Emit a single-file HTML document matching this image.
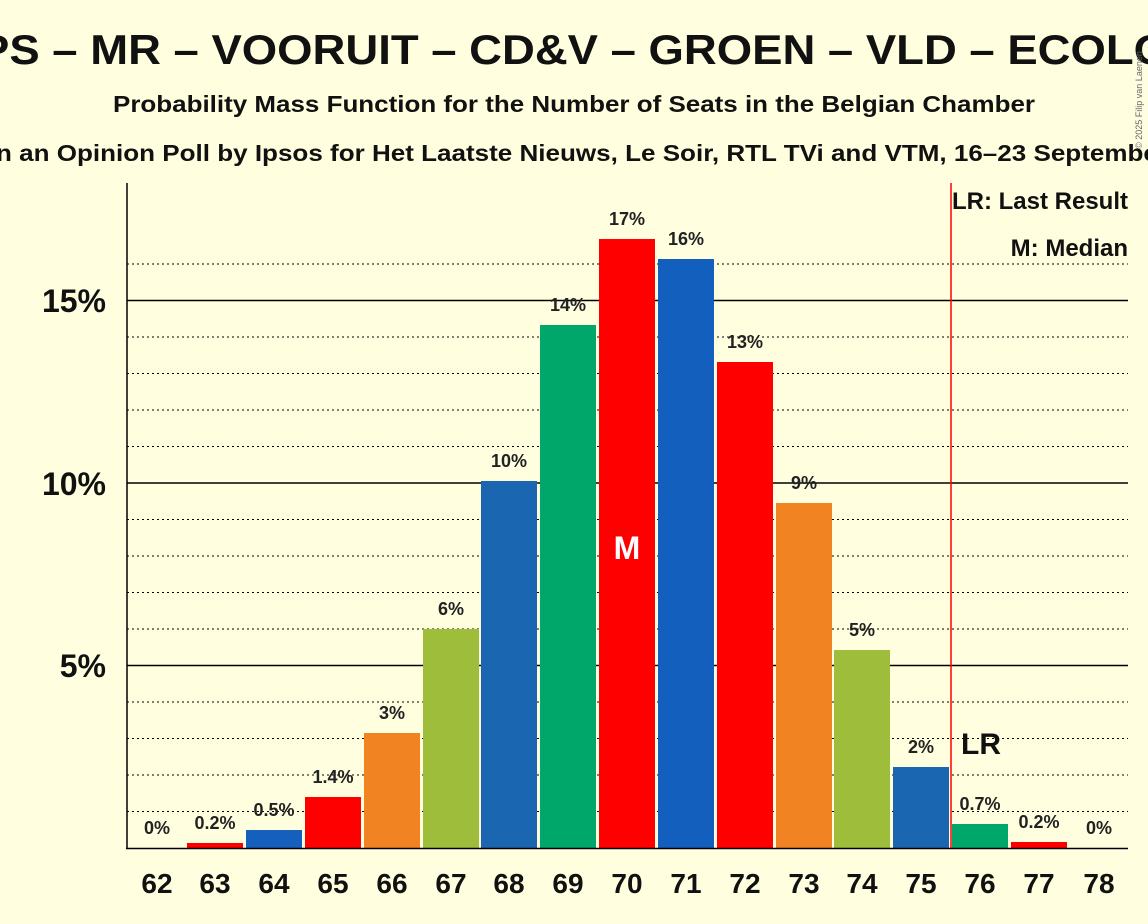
<!DOCTYPE html>
<html><head><meta charset="utf-8"><style>
body{margin:0;background:#ffffe0;}
svg{display:block;font-family:"Liberation Sans",sans-serif;}
</style></head><body>
<svg width="1148" height="924" xmlns="http://www.w3.org/2000/svg">
<rect width="1148" height="924" fill="#ffffe0"/>
<g font-weight="bold" text-anchor="middle" fill="#111">
<text x="574" y="64" font-size="42" textLength="1190" lengthAdjust="spacingAndGlyphs">PS – MR – VOORUIT – CD&amp;V – GROEN – VLD – ECOLO</text>
<text x="574" y="112" font-size="23" textLength="922" lengthAdjust="spacingAndGlyphs">Probability Mass Function for the Number of Seats in the Belgian Chamber</text>
<text x="582" y="161" font-size="23" textLength="1172" lengthAdjust="spacingAndGlyphs">n an Opinion Poll by Ipsos for Het Laatste Nieuws, Le Soir, RTL TVi and VTM, 16–23 September</text>
</g>
<text x="1142" y="100" font-size="9" fill="#666" transform="rotate(-90 1142 100)" text-anchor="middle">© 2025 Filip van Laenen</text>
<g stroke="#000" stroke-dasharray="2,3" stroke-width="1">
<line x1="127" x2="1128" y1="811.5" y2="811.5"/><line x1="127" x2="1128" y1="775" y2="775"/><line x1="127" x2="1128" y1="738.5" y2="738.5"/><line x1="127" x2="1128" y1="702" y2="702"/>
<line x1="127" x2="1128" y1="629" y2="629"/><line x1="127" x2="1128" y1="592.5" y2="592.5"/><line x1="127" x2="1128" y1="556" y2="556"/><line x1="127" x2="1128" y1="519.5" y2="519.5"/>
<line x1="127" x2="1128" y1="446.5" y2="446.5"/><line x1="127" x2="1128" y1="410" y2="410"/><line x1="127" x2="1128" y1="373.5" y2="373.5"/><line x1="127" x2="1128" y1="337" y2="337"/>
<line x1="127" x2="1128" y1="264" y2="264"/>
</g>
<g stroke="#000" stroke-width="1.5">
<line x1="127" x2="1128" y1="665.5" y2="665.5"/><line x1="127" x2="1128" y1="483" y2="483"/><line x1="127" x2="1128" y1="300.5" y2="300.5"/>
</g>
<g>
<rect x="187" y="843" width="56" height="5" fill="#f00"/>
<rect x="246" y="830" width="56" height="18" fill="#1560bd"/>
<rect x="305" y="797" width="56" height="51" fill="#f00"/>
<rect x="364" y="733" width="56" height="115" fill="#f28322"/>
<rect x="423" y="629" width="56" height="219" fill="#9ebd3b"/>
<rect x="481" y="481" width="56" height="367" fill="#1a66b0"/>
<rect x="540" y="325" width="56" height="523" fill="#00a76a"/>
<rect x="599" y="239" width="56" height="609" fill="#f00"/>
<rect x="658" y="259" width="56" height="589" fill="#125fbd"/>
<rect x="717" y="362" width="56" height="486" fill="#f00"/>
<rect x="776" y="503" width="56" height="345" fill="#f28322"/>
<rect x="834" y="650" width="56" height="198" fill="#9ebd3b"/>
<rect x="893" y="767" width="56" height="81" fill="#1a66b0"/>
<rect x="952" y="824" width="56" height="24" fill="#00a76a"/>
<rect x="1011" y="842" width="56" height="6" fill="#f00"/>
</g>
<line x1="951" x2="951" y1="183" y2="848" stroke="#f00" stroke-width="1.5"/>
<line x1="127" x2="127" y1="183" y2="849" stroke="#000" stroke-width="1.5"/>
<line x1="126" x2="1128" y1="848.5" y2="848.5" stroke="#000" stroke-width="1.5"/>
<g font-weight="bold" font-size="18" text-anchor="middle" fill="#222">
<text x="157" y="834">0%</text><text x="215" y="829">0.2%</text><text x="274" y="816">0.5%</text><text x="333" y="783">1.4%</text>
<text x="392" y="719">3%</text><text x="451" y="615">6%</text><text x="509" y="467">10%</text><text x="568" y="311">14%</text>
<text x="627" y="225">17%</text><text x="686" y="245">16%</text><text x="745" y="348">13%</text><text x="804" y="489">9%</text>
<text x="862" y="636">5%</text><text x="921" y="753">2%</text><text x="980" y="810">0.7%</text><text x="1039" y="828">0.2%</text><text x="1099" y="834">0%</text>
</g>
<text x="627" y="559" font-weight="bold" font-size="32" fill="#fff" text-anchor="middle">M</text>
<text x="981" y="754" font-weight="bold" font-size="30" fill="#111" text-anchor="middle">LR</text>
<g font-weight="bold" font-size="32" text-anchor="end" fill="#111">
<text x="106" y="312">15%</text><text x="106" y="495">10%</text><text x="106" y="677">5%</text>
</g>
<g font-weight="bold" font-size="28" text-anchor="middle" fill="#111">
<text x="157" y="893">62</text><text x="215" y="893">63</text><text x="274" y="893">64</text><text x="333" y="893">65</text><text x="392" y="893">66</text><text x="451" y="893">67</text><text x="509" y="893">68</text><text x="568" y="893">69</text><text x="627" y="893">70</text><text x="686" y="893">71</text><text x="745" y="893">72</text><text x="804" y="893">73</text><text x="862" y="893">74</text><text x="921" y="893">75</text><text x="980" y="893">76</text><text x="1039" y="893">77</text><text x="1099" y="893">78</text>
</g>
<g font-weight="bold" font-size="24" text-anchor="end" fill="#111">
<text x="1128" y="209">LR: Last Result</text><text x="1128" y="256">M: Median</text>
</g>
</svg>
</body></html>
